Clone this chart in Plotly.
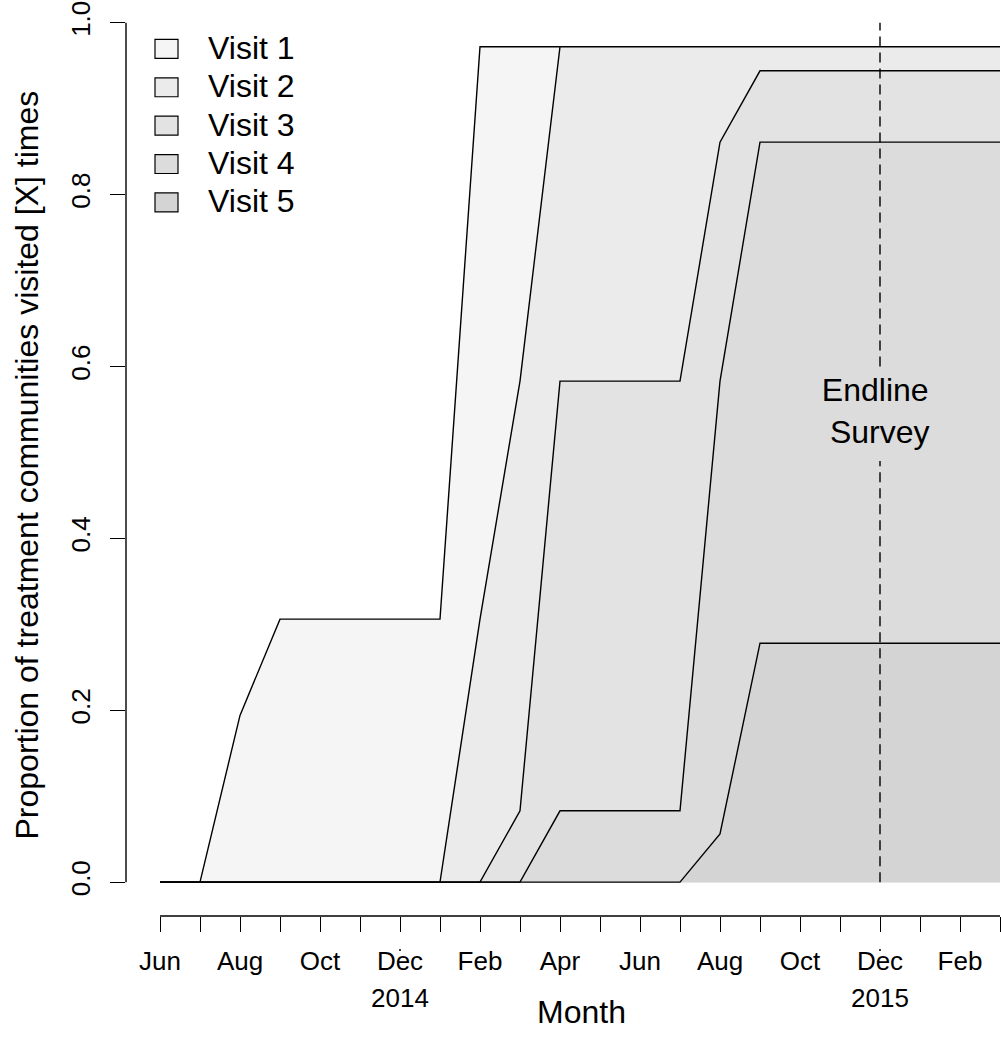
import plotly.graph_objects as go

# ---------------- data ----------------
months = ["Jun", "Jul", "Aug", "Sep", "Oct", "Nov", "Dec", "Jan", "Feb", "Mar", "Apr",
          "May", "Jun", "Jul", "Aug", "Sep", "Oct", "Nov", "Dec", "Jan", "Feb", "Mar"]
month_idx = list(range(len(months)))
tick_text = ["Jun", "", "Aug", "", "Oct", "", "Dec", "", "Feb", "", "Apr",
             "", "Jun", "", "Aug", "", "Oct", "", "Dec", "", "Feb", ""]
year_labels = ["2014", "2015"]
year_pos = [6, 18]
endline_month = 18

visit1 = [0, 0, 0.194, 0.306, 0.306, 0.306, 0.306, 0.306, 0.972, 0.972, 0.972,
          0.972, 0.972, 0.972, 0.972, 0.972, 0.972, 0.972, 0.972, 0.972, 0.972, 0.972]
visit2 = [0, 0, 0, 0, 0, 0, 0, 0, 0.306, 0.583, 0.972,
          0.972, 0.972, 0.972, 0.972, 0.972, 0.972, 0.972, 0.972, 0.972, 0.972, 0.972]
visit3 = [0, 0, 0, 0, 0, 0, 0, 0, 0, 0.083, 0.583,
          0.583, 0.583, 0.583, 0.861, 0.944, 0.944, 0.944, 0.944, 0.944, 0.944, 0.944]
visit4 = [0, 0, 0, 0, 0, 0, 0, 0, 0, 0, 0.083,
          0.083, 0.083, 0.083, 0.583, 0.861, 0.861, 0.861, 0.861, 0.861, 0.861, 0.861]
visit5 = [0, 0, 0, 0, 0, 0, 0, 0, 0, 0, 0,
          0, 0, 0, 0.056, 0.278, 0.278, 0.278, 0.278, 0.278, 0.278, 0.278]

series_names = ["Visit 1", "Visit 2", "Visit 3", "Visit 4", "Visit 5"]
series_vals = [visit1, visit2, visit3, visit4, visit5]
fill_colors = ["#f5f5f5", "#ebebeb", "#e3e3e3", "#dcdcdc", "#d4d4d4"]

FONT = "Liberation Sans, Arial, Helvetica, sans-serif"
OFF = 0  # page offset (body margin removed below)
W, H = 1001, 1040
L, R, T, B = 126, 1, 19, 124
PW, PH = W - L - R, H - T - B


def px(x):
    """page pixel x -> paper x"""
    return (x - OFF - L) / PW


def py(y):
    """page pixel y -> paper y"""
    return (H - B - (y - OFF)) / PH


fig = go.Figure()
for name, vals, col in zip(series_names, series_vals, fill_colors):
    fig.add_trace(go.Scatter(
        x=month_idx, y=vals, mode="lines", name=name,
        line=dict(color="black", width=1.4),
        fill="tozeroy", fillcolor=col, showlegend=False, hoverinfo="x+y+name"))

shapes = []
# axis lines (R style, detached)
shapes.append(dict(type="line", xref="paper", yref="y", x0=0, x1=0, y0=0, y1=1,
                   line=dict(color="black", width=1.4)))
shapes.append(dict(type="line", xref="x", yref="paper", x0=0, x1=21, y0=0, y1=0,
                   line=dict(color="black", width=1.4)))
# endline dashed line (broken around the label)
for y0, y1 in [(0, 0.49), (0.6, 1.0)]:
    shapes.append(dict(type="line", xref="x", yref="y", x0=endline_month, x1=endline_month,
                       y0=y0, y1=y1, line=dict(color="black", width=1.4, dash="10px,6px")))
# small marks from the year axis
for xp in year_pos:
    shapes.append(dict(type="line", xref="x", yref="paper", x0=xp, x1=xp,
                       y0=py(949), y1=py(951), line=dict(color="black", width=1.5)))

annotations = []
# legend
for i, (name, col) in enumerate(zip(series_names, fill_colors)):
    cy = 46 + i * 38.5
    shapes.append(dict(type="rect", xref="paper", yref="paper",
                       x0=px(155), x1=px(178), y0=py(cy - 9.5), y1=py(cy + 9.5),
                       fillcolor=col, line=dict(color="black", width=1.2)))
    annotations.append(dict(xref="paper", yref="paper", x=px(206), y=py(cy - 1),
                            text=name, showarrow=False, xanchor="left", yanchor="middle",
                            font=dict(family=FONT, size=32, color="black")))

# year labels
for lab, xp in zip(year_labels, year_pos):
    annotations.append(dict(xref="x", yref="paper", x=xp, y=py(998), text=lab,
                            showarrow=False, xanchor="center", yanchor="middle",
                            font=dict(family=FONT, size=26, color="black")))
# axis titles
annotations.append(dict(xref="paper", yref="paper", x=px(581), y=py(1012), text="Month",
                        showarrow=False, xanchor="center", yanchor="middle",
                        font=dict(family=FONT, size=32, color="black")))
annotations.append(dict(xref="paper", yref="paper", x=px(27), y=py(464),
                        text="Proportion of treatment communities visited [X] times",
                        showarrow=False, xanchor="center", yanchor="middle", textangle=-90,
                        font=dict(family=FONT, size=32, color="black")))
# endline label
annotations.append(dict(xref="x", yref="paper", x=endline_month - 0.12, y=py(409),
                        text="Endline<br> Survey", showarrow=False,
                        xanchor="center", yanchor="middle",
                        font=dict(family=FONT, size=32, color="black")))

fig.update_layout(
    width=W, height=H,
    margin=dict(l=L, r=R, t=T, b=B),
    paper_bgcolor="white", plot_bgcolor="white",
    font=dict(family=FONT, color="black"),
    shapes=shapes, annotations=annotations,
    xaxis=dict(range=[-34 / 40, 21], tickmode="array", tickvals=month_idx, ticktext=tick_text,
               ticks="outside", ticklen=15, tickwidth=1.4, tickcolor="black",
               showgrid=False, zeroline=False, showline=False,
               tickfont=dict(family=FONT, size=26, color="black"), ticklabelstandoff=7),
    yaxis=dict(range=[-34 / 863, 1.0008], tickmode="array", tickvals=[0, 0.2, 0.4, 0.6, 0.8, 1.0],
               ticktext=["0.0", "0.2", "0.4", "0.6", "0.8", "1.0"],
               ticks="outside", ticklen=15, tickwidth=1.4, tickcolor="black", tickangle=-90,
               showgrid=False, zeroline=False, showline=False, ticklabeloverflow="allow",
               tickfont=dict(family=FONT, size=26, color="black"), ticklabelstandoff=10),
)

fig.write_html("out.html", config={"displayModeBar": False},
               post_script="document.body.style.margin='0';document.body.style.overflow='hidden';")
